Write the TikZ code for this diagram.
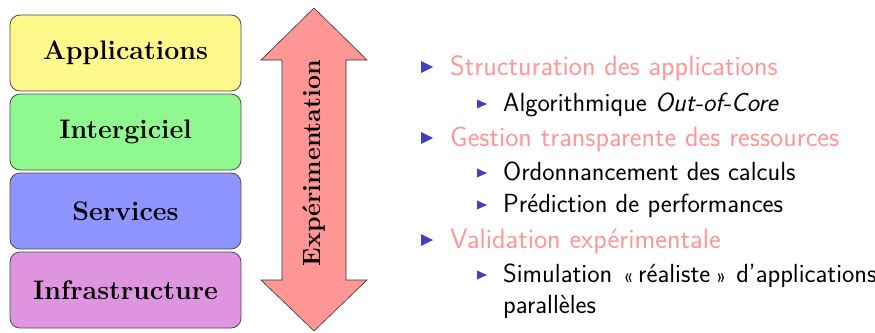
\documentclass[tikz,border=0pt]{standalone}
\usepackage{fontspec}
\definecolor{appfill}{RGB}{255,249,140}
\definecolor{midfill}{RGB}{143,249,143}
\definecolor{srvfill}{RGB}{143,149,255}
\definecolor{infill}{RGB}{223,148,223}
\definecolor{arrowfill}{RGB}{255,150,150}
\definecolor{itemcol}{RGB}{255,150,150}
\definecolor{bulletcol}{RGB}{64,64,196}
\tikzset{
  layer/.style={draw=black!70, line width=0.8pt, rounded corners=10pt,
    minimum width=231pt, minimum height=76pt, inner sep=0pt,
    font=\fontsize{26.8}{32}\selectfont\bfseries},
  mainitem/.style={anchor=base west, inner sep=0pt, text=itemcol,
    font=\fontsize{28}{33}\selectfont\sffamily},
  subitem/.style={anchor=base west, inner sep=0pt, text=black,
    font=\fontsize{26.2}{31}\selectfont\sffamily},
}
\newcommand{\mainbullet}[1]{\fill[bulletcol] (421,#1-6) -- (433,#1) -- (421,#1+6) -- cycle;}
\newcommand{\subbullet}[1]{\fill[bulletcol] (477,#1-4.5) -- (487,#1) -- (477,#1+4.5) -- cycle;}
\newcommand{\smallquote}[1]{{\fontsize{20}{24}\selectfont #1}}
\begin{document}
\begin{tikzpicture}[x=1pt,y=-1pt]
\useasboundingbox (0,0) rectangle (875,332);

% protocol stack
\node[layer, fill=appfill] (app) at (125.5,53) {Applications};
\node[layer, fill=midfill] (mid) at (125.5,132) {Intergiciel};
\node[layer, fill=srvfill] (srv) at (125.5,211) {Services};
\node[layer, fill=infill]  (inf) at (125.5,290) {Infrastructure};

% double-headed arrow
\draw[fill=arrowfill, draw=black!80, line width=0.6pt, line join=miter]
  (314,8) -- (367,60) -- (346,60) -- (346,280) -- (367,280) -- (314,331)
  -- (261,280) -- (282,280) -- (282,60) -- (261,60) -- cycle;
\node[rotate=90, font=\fontsize{25}{30}\selectfont\bfseries] (exp) at (314,163) {Expérimentation};

% bullet list
\mainbullet{67}
\node[mainitem] (i1) at (450,75) {Structuration des applications};
\subbullet{104}
\node[subitem] (s1) at (503,111) {Algorithmique \textit{Out-of-Core}};
\mainbullet{138}
\node[mainitem] (i2) at (450,146) {Gestion transparente des ressources};
\subbullet{173}
\node[subitem] (s2) at (503,180) {Ordonnancement des calculs};
\subbullet{205}
\node[subitem] (s3) at (503,212) {Prédiction de performances};
\mainbullet{240}
\node[mainitem] (i3) at (450,248) {Validation expérimentale};
\subbullet{275}
\node[subitem] (s4) at (503,282) {Simulation\hspace{11pt}\smallquote{«}\hspace{5.5pt}réaliste\hspace{6.5pt}\smallquote{»}\hspace{10pt}d’applications};
\node[subitem] (s5) at (503,313) {parallèles};
\end{tikzpicture}
\end{document}
